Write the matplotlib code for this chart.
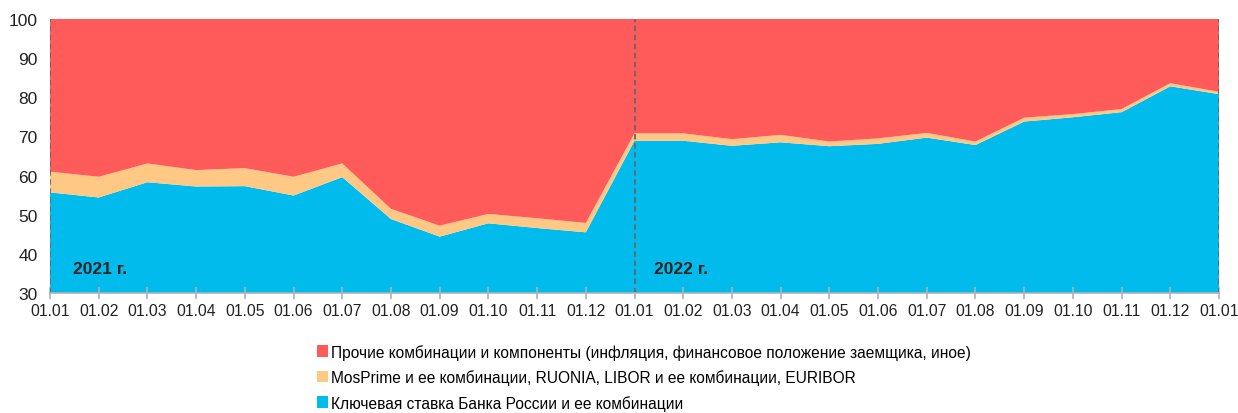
import matplotlib.pyplot as plt
import numpy as np
from matplotlib.patches import Patch

# Data (shares, %)
labels = ["01.01", "01.02", "01.03", "01.04", "01.05", "01.06", "01.07", "01.08",
          "01.09", "01.10", "01.11", "01.12"] * 2 + ["01.01"]
key_rate = [55.7, 54.4, 58.3, 57.2, 57.3, 54.9, 59.6, 48.9, 44.4, 47.8, 46.6, 45.5,
            68.9, 68.9, 67.6, 68.5, 67.5, 68.1, 69.7, 67.8, 73.8, 74.9, 76.2, 82.8, 80.8]
mosprime = [5.3, 5.3, 4.8, 4.2, 4.6, 4.8, 3.5, 2.6, 2.8, 2.4, 2.5, 2.4,
            1.9, 1.9, 1.7, 1.9, 1.2, 1.4, 1.2, 0.9, 1.0, 0.8, 0.8, 0.8, 0.6]
other = [100 - a - b for a, b in zip(key_rate, mosprime)]

names = ["Прочие комбинации и компоненты (инфляция, финансовое положение заемщика, иное)",
         "MosPrime и ее комбинации, RUONIA, LIBOR и ее комбинации, EURIBOR",
         "Ключевая ставка Банка России и ее комбинации"]
colors = ["#FF5B5A", "#FFC985", "#00BBEC"]

plt.rcParams['font.family'] = ['Liberation Sans', 'DejaVu Sans']

fig = plt.figure(figsize=(12.38, 4.14), dpi=100)
ax = fig.add_axes([50 / 1238, 1 - 294 / 414, (1219 - 50) / 1238, 274 / 414])

x = np.arange(len(labels))
ax.stackplot(x, key_rate, mosprime, other, colors=[colors[2], colors[1], colors[0]],
             linewidth=0)

ax.set_xlim(0, len(labels) - 1)
ax.set_ylim(30, 100)
ax.set_yticks(range(30, 101, 10))
ax.set_xticks(x)
ax.set_xticklabels(labels)

# dashed year separators
for xv in [0, 12, 24]:
    ax.axvline(xv, color="#666666", linestyle=(0, (3, 2)), linewidth=1.3)

for s in ["top", "right", "left"]:
    ax.spines[s].set_visible(False)
ax.spines["bottom"].set_color("#A9B4BC")
ax.spines["bottom"].set_linewidth(1.2)
ax.tick_params(axis="x", direction="inout", length=9, color="#A9B4BC", width=1.2,
               labelsize=11.3, pad=3, labelcolor="#222222")
ax.tick_params(axis="y", length=0, labelsize=12.5, pad=9, labelcolor="#222222")

ax.text(0.48, 35.2, "2021 г.", fontsize=12.5, fontweight="bold", color="#222222")
ax.text(12.4, 35.2, "2022 г.", fontsize=12.5, fontweight="bold", color="#222222")

handles = [Patch(facecolor=c, edgecolor="none") for c in colors]
fig.legend(handles, names, loc="upper left", bbox_to_anchor=(309 / 1238, 1 - 337 / 414),
           frameon=False, fontsize=11.2, handlelength=0.75, handleheight=0.75,
           handletextpad=0.15, labelspacing=0.62, borderpad=0)

fig.savefig("out.png", dpi=100)
